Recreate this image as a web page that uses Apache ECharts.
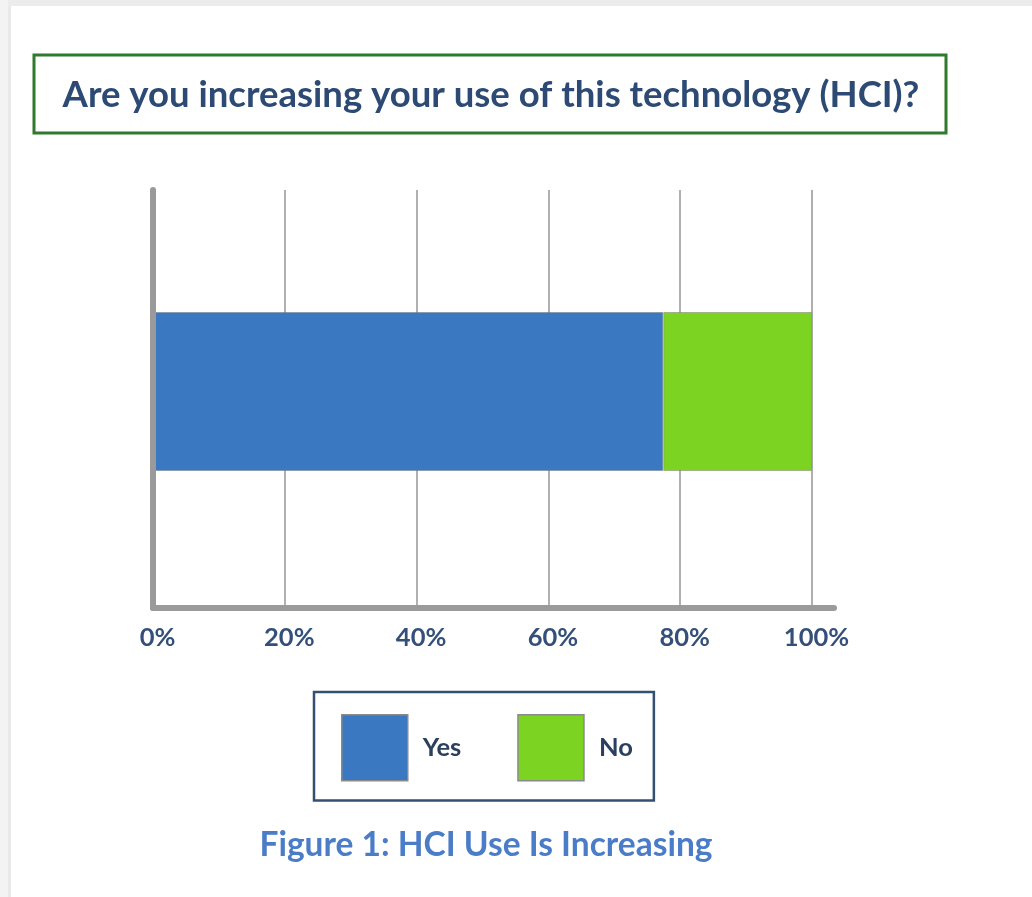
<!DOCTYPE html>
<html><head><meta charset="utf-8">
<script src="https://cdn.jsdelivr.net/npm/echarts@6/dist/echarts.min.js"></script>
<style>html,body{margin:0;padding:0;background:#fff}#c{width:1032px;height:897px}</style>
</head><body><div id="c"></div>
<script>
const titleText = 'Are you increasing your use of this technology (HCI)?';
const captionText = 'Figure 1: HCI Use Is Increasing';
const categories = ['HCI'];
const seriesNames = ['Yes', 'No'];
const yesValues = [77.4];
const noValues = [22.6];
const seriesColors = ['#3a78c2', '#7dd322'];
const xMin = 0, xMax = 100, xInterval = 20;
const xLineMax = 103.3; // axis line runs a little past 100%

const FONT = 'Lato, "Open Sans", sans-serif';
const chart = echarts.init(document.getElementById('c'), null, {renderer: 'canvas'});
const option = {
  backgroundColor: '#ffffff',
  animation: false,
  graphic: [
    {type: 'rect', shape: {x: 0, y: 0, width: 1032, height: 6}, style: {fill: '#ececec'}, silent: true},
    {type: 'rect', shape: {x: 0, y: 0, width: 8, height: 897}, style: {fill: '#f3f3f3'}, silent: true},
    {type: 'rect', shape: {x: 8, y: 6, width: 3, height: 891}, style: {fill: '#e9e9e9'}, silent: true},
    {type: 'rect', shape: {x: 34, y: 55, width: 912, height: 78}, style: {fill: '#ffffff', stroke: '#2f7a2c', lineWidth: 3}, silent: true},
    {type: 'text', x: 491, y: 95, silent: true,
      style: {text: titleText, fill: '#2c4a74', fontFamily: FONT, fontWeight: 'bold', fontSize: 36.5, align: 'center', verticalAlign: 'middle'}},
    {type: 'text', x: 486, y: 845, silent: true,
      style: {text: captionText, fill: '#4a7cc8', fontFamily: FONT, fontWeight: 'bold', fontSize: 33.5, align: 'center', verticalAlign: 'middle'}}
  ],
  legend: {
    data: seriesNames, left: 314, top: 692, orient: 'horizontal',
    itemWidth: 66, itemHeight: 66, itemGap: 56, icon: 'rect',
    padding: [22, 21, 19, 27], borderColor: '#34506f', borderWidth: 2.5,
    itemStyle: {borderColor: '#8a8a8a', borderWidth: 1.5},
    textStyle: {fontFamily: FONT, fontWeight: 'bold', fontSize: 25.5, color: '#2b3f5e', padding: [0, 0, 0, 10]}
  },
  grid: [
    {left: 153, right: 220, top: 190, bottom: 289},
    {left: 153, right: 198, top: 175, bottom: 289}
  ],
  xAxis: [
    {gridIndex: 0, type: 'value', min: xMin, max: xMax, interval: xInterval,
      axisLine: {show: false}, axisTick: {show: false},
      splitLine: {show: true, lineStyle: {color: '#b0b0b0', width: 2}},
      axisLabel: {formatter: '{value}%', fontFamily: FONT, fontWeight: 'bold', fontSize: 25.5, color: '#34507a', margin: 17, padding: [0, 0, 0, 9]}},
    {gridIndex: 1, type: 'value', min: xMin, max: xLineMax,
      axisLine: {show: true, lineStyle: {color: '#9a9a9a', width: 6}}, axisTick: {show: false},
      axisLabel: {show: false}, splitLine: {show: false}}
  ],
  yAxis: [
    {gridIndex: 0, type: 'category', data: categories, z: 3,
      axisLine: {show: true, lineStyle: {color: '#9a9a9a', width: 6}}, axisTick: {show: false},
      axisLabel: {show: false}, splitLine: {show: false}},
    {gridIndex: 1, type: 'category', data: categories, show: false}
  ],
  series: [
    {name: seriesNames[0], type: 'bar', stack: 'total', xAxisIndex: 1, yAxisIndex: 1, data: yesValues, barWidth: 159,
      itemStyle: {color: seriesColors[0], borderColor: 'rgba(120,120,120,0.45)', borderWidth: 1}},
    {name: seriesNames[1], type: 'bar', stack: 'total', xAxisIndex: 1, yAxisIndex: 1, data: noValues, barWidth: 159,
      itemStyle: {color: seriesColors[1], borderColor: 'rgba(120,120,120,0.45)', borderWidth: 1}}
  ]
};
chart.setOption(option);
</script></body></html>
